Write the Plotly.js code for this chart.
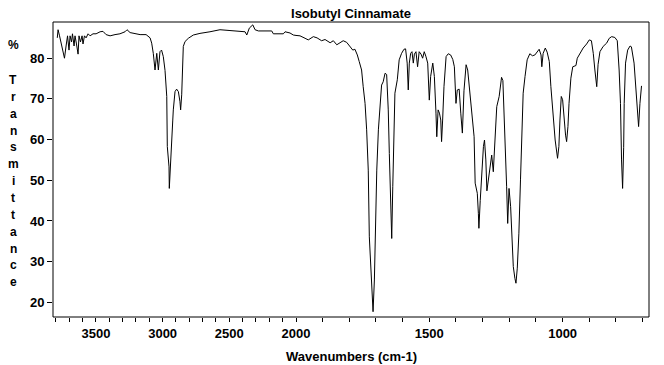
<!DOCTYPE html>
<html>
<head>
<meta charset="utf-8">
<script src="https://cdn.plot.ly/plotly-3.0.1.min.js"></script>
<style>html,body{margin:0;padding:0;background:#fff;}#chart{width:664px;height:365px;}</style>
</head>
<body>
<div id="chart"></div>
<script>
// High-wavenumber section (3800-2000 cm-1), compressed scale
const wnHigh = [3790,3784,3773,3762,3751,3736,3724,3713,3702,3694,3683,3676,3664,3657,3646,3634,3627,3616,3604,3597,3586,3574,3559,3544,3522,3499,3469,3447,3424,3394,3357,3320,3282,3267,3244,3207,3169,3124,3094,3082,3070,3057,3044,3032,3020,3008,2995,2982,2969,2965,2952,2950,2939,2932,2924,2920,2907,2895,2882,2870,2865,2857,2850,2845,2832,2807,2770,2732,2720,2645,2570,2495,2382,2369,2350,2324,2307,2282,2182,2170,2095,2082,2045,2020,2000];
const tHigh = [85,87,85.5,84,82.5,80,83,85.5,82,85.5,84,86,83,85.5,83.5,81,85.5,84,85.5,83.5,85.5,85,86,85.5,86,86,86.5,86.6,85.8,85.5,85.8,86,86.5,87,86.3,86,85.8,85.8,85,83.7,81.2,77.1,81.2,77.1,81.6,82,80.4,77,70.6,58.3,53.3,48,56.6,62.4,64.8,67.3,71.8,72.4,71.8,69.3,67.3,71,78.8,82.9,84.1,84.9,85.7,86.1,86.1,86.5,87,86.8,86.5,85.7,87.4,88.2,87,86.7,86.7,86,86,86.5,86.2,85.7,85.6];
// Low-wavenumber section (2000-676 cm-1), expanded scale
const wnLow = [2000,1985,1966,1954,1935,1921,1904,1891,1872,1860,1847,1835,1823,1810,1797,1787,1779,1770,1763,1754,1748,1741,1735,1729,1725,1720,1715,1711,1706,1703,1697,1691,1685,1679,1673,1666,1660,1654,1650,1645,1641,1637,1633,1629,1620,1613,1604,1595,1589,1583,1579,1575,1570,1565,1560,1556,1550,1544,1538,1531,1525,1519,1513,1506,1500,1495,1487,1481,1475,1472,1467,1462,1457,1454,1450,1445,1437,1429,1420,1412,1406,1400,1395,1388,1382,1376,1370,1362,1356,1350,1341,1332,1328,1320,1316,1314,1309,1303,1297,1293,1288,1284,1278,1272,1266,1260,1254,1247,1238,1229,1224,1216,1210,1206,1201,1195,1190,1185,1179,1175,1170,1164,1158,1154,1148,1141,1133,1123,1113,1104,1094,1088,1081,1078,1073,1065,1058,1050,1044,1035,1028,1019,1014,1010,1005,1000,995,989,985,980,976,969,962,950,945,935,923,910,900,892,885,879,872,867,860,848,835,825,816,804,795,788,783,779,775,771,769,764,756,747,742,732,725,719,715,710,706,704];
const tLow = [85.6,85.5,84.9,84.5,85.3,85,84.3,84.6,83.8,84.3,83.3,83.7,84.3,83.9,82.9,82,82.2,80.8,79.2,77.1,73,68.9,62.4,52.5,36.1,28,22.2,17.7,25.5,36.1,52.5,62.4,68.5,73.4,74.2,76.3,76,67.3,56.6,42.7,35.7,48.4,64.8,71.4,74.7,79.6,81.2,82.2,82.3,78.8,72.2,78.8,81.2,81.6,78.8,81,81.6,77.9,81.6,81,80,81.6,80.5,78.8,69.7,75.5,78.8,75.5,66.5,60.7,67.3,66.5,64.8,59.5,64.8,73,80.4,81.1,80.8,79.7,77.9,68.9,72.2,72.4,66.5,61.6,72,78.4,77.1,73,66.5,60.7,49.3,46.8,41.9,38.2,45,52.5,58.3,59.9,55,47.4,50.1,53.3,56.2,52.1,58.3,68.1,70.6,75.3,74.5,61.6,48.4,39.4,48,43.5,35.3,28.8,25.9,24.7,28.4,37,50.1,59.1,71.4,75.5,79.6,81.1,80.6,80.8,81.6,82.2,80.8,77.9,81.2,82.5,81.5,79.2,73,64.8,59.9,55.4,58.3,64.8,70.6,69.8,64.8,61.1,59.5,63.2,68.9,75.1,77.9,78.2,80,81.2,82.5,83.5,84.5,84.3,81.2,77.1,73,78.5,81.6,82.9,83.7,84.9,85.3,85.1,84.3,77.1,68.9,55,48,58,68.9,78.8,82,83,82.8,78.8,72.2,64.8,63.2,68.9,72.6,73.2];

const xTicksHigh = [3500, 3000, 2500, 2000];
const xTicksLow = [1500, 1000];
const yTicks = [20, 30, 40, 50, 60, 70, 80];
const titleText = 'Isobutyl Cinnamate';
const xTitleText = 'Wavenumbers (cm-1)';
const yTitleLetters = ['%', 'T','r','a','n','s','m','i','t','t','a','n','c','e'];

const W = 664, H = 365;
const L = 53, R = 15, T = 22, B = 48;
const PW = W - L - R, PH = H - T - B;
const split = (296 - L) / PW;

const tickFont = {family: '"Liberation Sans Narrow", "Arial Narrow", "Liberation Sans", Arial, sans-serif', size: 13, color: '#000', weight: 'bold'};
const labelFont = {family: '"Liberation Sans", Arial, sans-serif', size: 12, color: '#000', weight: 'bold'};

function px2paperX(px) { return (px - L) / PW; }
function py2paperY(py) { return 1 - (py - T) / PH; }

const minorHigh = [];
for (let v = 3800; v >= 2000; v -= 100) minorHigh.push(v);
const minorLow = [];
for (let v = 1900; v >= 700; v -= 100) minorLow.push(v);

const traces = [
  {x: wnHigh, y: tHigh, xaxis: 'x', yaxis: 'y', type: 'scatter', mode: 'lines', line: {color: '#000', width: 1}, hoverinfo: 'skip'},
  {x: wnLow, y: tLow, xaxis: 'x2', yaxis: 'y', type: 'scatter', mode: 'lines', line: {color: '#000', width: 1}, hoverinfo: 'skip'}
];

const annotations = [];
yTitleLetters.forEach((ch, i) => {
  const py = i === 0 ? 45 : 80 + (i - 1) * 16.85;
  annotations.push({text: ch, xref: 'paper', yref: 'paper', x: px2paperX(13), y: py2paperY(py), xanchor: 'center', yanchor: 'middle', showarrow: false, font: {family: labelFont.family, size: 12, color: '#000', weight: 'bold'}});
});
annotations.push({text: xTitleText, xref: 'paper', yref: 'paper', x: px2paperX(351), y: py2paperY(356), xanchor: 'center', yanchor: 'middle', showarrow: false, font: {family: labelFont.family, size: 13, color: '#000', weight: 'bold'}});

const axisCommon = {showgrid: false, zeroline: false, showline: false, ticks: 'outside', ticklen: 4, tickwidth: 1, tickcolor: '#000', tickfont: tickFont, fixedrange: true};

const layout = {
  width: W, height: H,
  margin: {l: L, r: R, t: T, b: B, pad: 0},
  paper_bgcolor: '#fff', plot_bgcolor: '#fff',
  showlegend: false,
  title: {text: titleText, font: {family: labelFont.family, size: 13, color: '#000', weight: 'bold'}, x: px2paperX(351), xref: 'paper', xanchor: 'center', y: 1 - 13 / H, yref: 'container', yanchor: 'middle'},
  xaxis: Object.assign({}, axisCommon, {domain: [0, split], range: [3822, 2000], tickmode: 'array', tickvals: xTicksHigh, ticktext: xTicksHigh.map(String), anchor: 'y',
    minor: {tickmode: 'array', tickvals: minorHigh, ticks: 'outside', ticklen: 4, tickcolor: '#000', showgrid: false}}),
  xaxis2: Object.assign({}, axisCommon, {domain: [split, 1], range: [2000, 676], tickmode: 'array', tickvals: xTicksLow, ticktext: xTicksLow.map(String), anchor: 'y',
    minor: {tickmode: 'array', tickvals: minorLow, ticks: 'outside', ticklen: 4, tickcolor: '#000', showgrid: false}}),
  yaxis: Object.assign({}, axisCommon, {range: [16.4, 88.9], tickmode: 'array', tickvals: yTicks, ticktext: yTicks.map(String), anchor: 'x', ticklen: 5}),
  shapes: [{type: 'rect', xref: 'paper', yref: 'paper', x0: 0, x1: 1, y0: 0, y1: 1, line: {color: '#000', width: 1}, layer: 'above'}],
  annotations: annotations
};

Plotly.newPlot('chart', traces, layout, {displayModeBar: false, staticPlot: true});
</script>
</body>
</html>
